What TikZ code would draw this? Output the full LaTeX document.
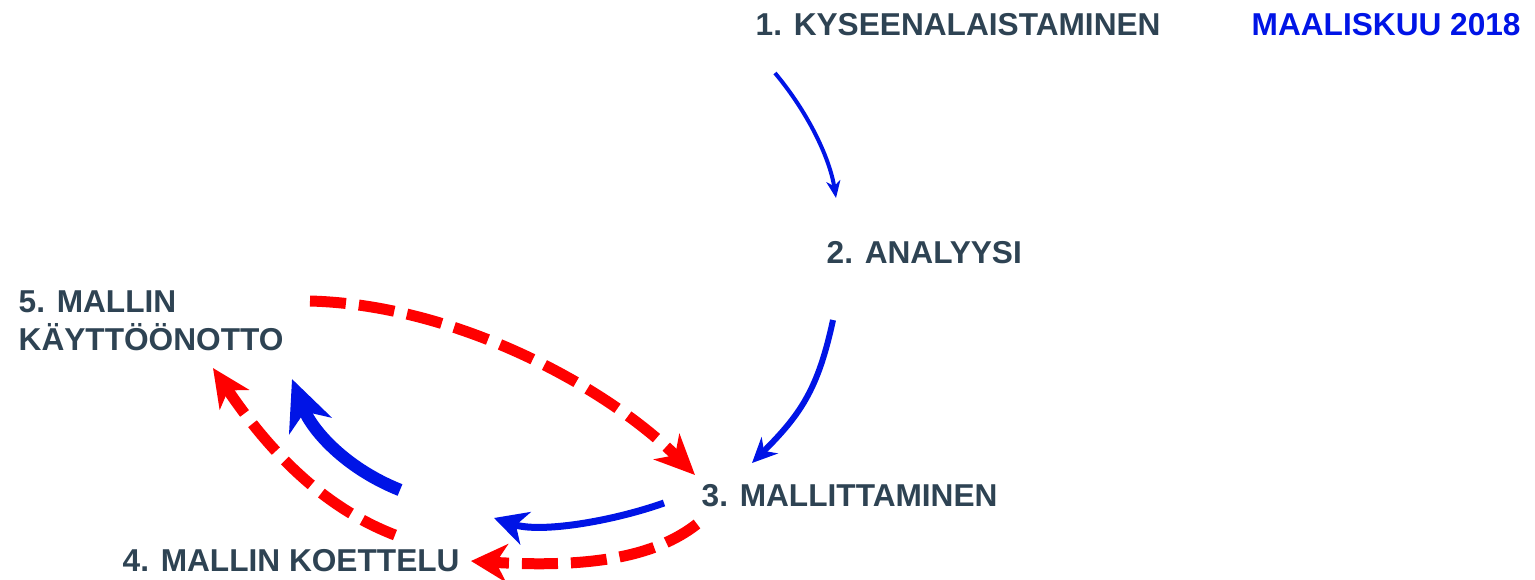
\documentclass[tikz,border=0pt]{standalone}
\usepackage{fontspec}
\setmainfont{Liberation Sans}
\usetikzlibrary{arrows.meta}
\definecolor{txtgray}{RGB}{46,67,83}
\definecolor{arrblue}{RGB}{0,20,230}
\definecolor{arrred}{RGB}{255,0,0}
\tikzset{
	lbl/.style={inner sep=0pt,anchor=base west,text=txtgray,font=\fontsize{9}{10.8}\selectfont\bfseries},
	bluearr/.style={draw=arrblue,line cap=butt},
	redarr/.style={draw=arrred,line width=1.1mm,dash pattern=on 3.6mm off 1.3mm}
}
\begin{document}
\begin{tikzpicture}
\useasboundingbox (0,0) rectangle (15.35,5.79);
%%% Phases
\node[lbl] (kys) at (7.55,5.44) {1. KYSEENALAISTAMINEN};
\node[lbl,text=arrblue] (date) at (12.51,5.44) {MAALISKUU 2018};
\node[lbl] (ana) at (8.26,3.16) {2. ANALYYSI};
\node[lbl,align=left] (kay) at (0.18,2.29) {5. MALLIN\\K\"AYTT\"O\"ONOTTO};
\node[lbl] (mal) at (7.01,0.73) {3. MALLITTAMINEN};
\node[lbl] (koe) at (1.22,0.08) {4. MALLIN KOETTELU};
%%% Blue arrows
\draw[bluearr,line width=0.4mm,-{Stealth[length=1.7mm,width=1.4mm,inset=0.5mm]}]
	([shift={(0.20,-0.38)}]kys.base west) .. controls (8.10,4.64) and (8.30,4.19) .. ([shift={(0.10,0.65)}]ana.base west);
\draw[bluearr,line width=0.6mm,-{Stealth[length=2.5mm,width=2.3mm,inset=0.8mm]}]
	([shift={(0.07,-0.57)}]ana.base west) .. controls (8.18,1.89) and (8.00,1.64) .. ([shift={(0.51,0.43)}]mal.base west);
\draw[bluearr,line width=0.7mm,-{Stealth[length=3.3mm,width=3.4mm,inset=1mm]}]
	([shift={(-0.37,0.03)}]mal.base west) .. controls (6.10,0.57) and (5.40,0.46) .. ([shift={(3.72,0.53)}]koe.base west);
\draw[bluearr,line width=1.25mm,-{Stealth[length=5mm,width=4.5mm,inset=1.5mm]}]
	([shift={(2.78,0.81)}]koe.base west) .. controls (3.45,1.11) and (3.12,1.49) .. ([shift={(2.74,-0.29)}]kay.base west);
%%% Red dashed arrows
\draw[redarr,-{Stealth[length=4mm,width=3.6mm,inset=1.2mm]}]
	([shift={(2.92,0.49)}]kay.base west) .. controls (4.60,2.74) and (6.10,1.89) .. ([shift={(-0.06,0.31)}]mal.base west);
\draw[redarr,-{Stealth[length=3.6mm,width=3.8mm,inset=1.1mm]}]
	([shift={(-0.04,-0.18)}]mal.base west) .. controls (6.55,0.22) and (5.90,0.11) .. ([shift={(3.49,0.10)}]koe.base west);
\draw[redarr,-{Stealth[length=3.8mm,width=3.5mm,inset=1.1mm]}]
	([shift={(2.73,0.36)}]koe.base west) .. controls (3.30,0.69) and (2.75,1.19) .. ([shift={(1.95,-0.18)}]kay.base west);
\end{tikzpicture}
\end{document}
